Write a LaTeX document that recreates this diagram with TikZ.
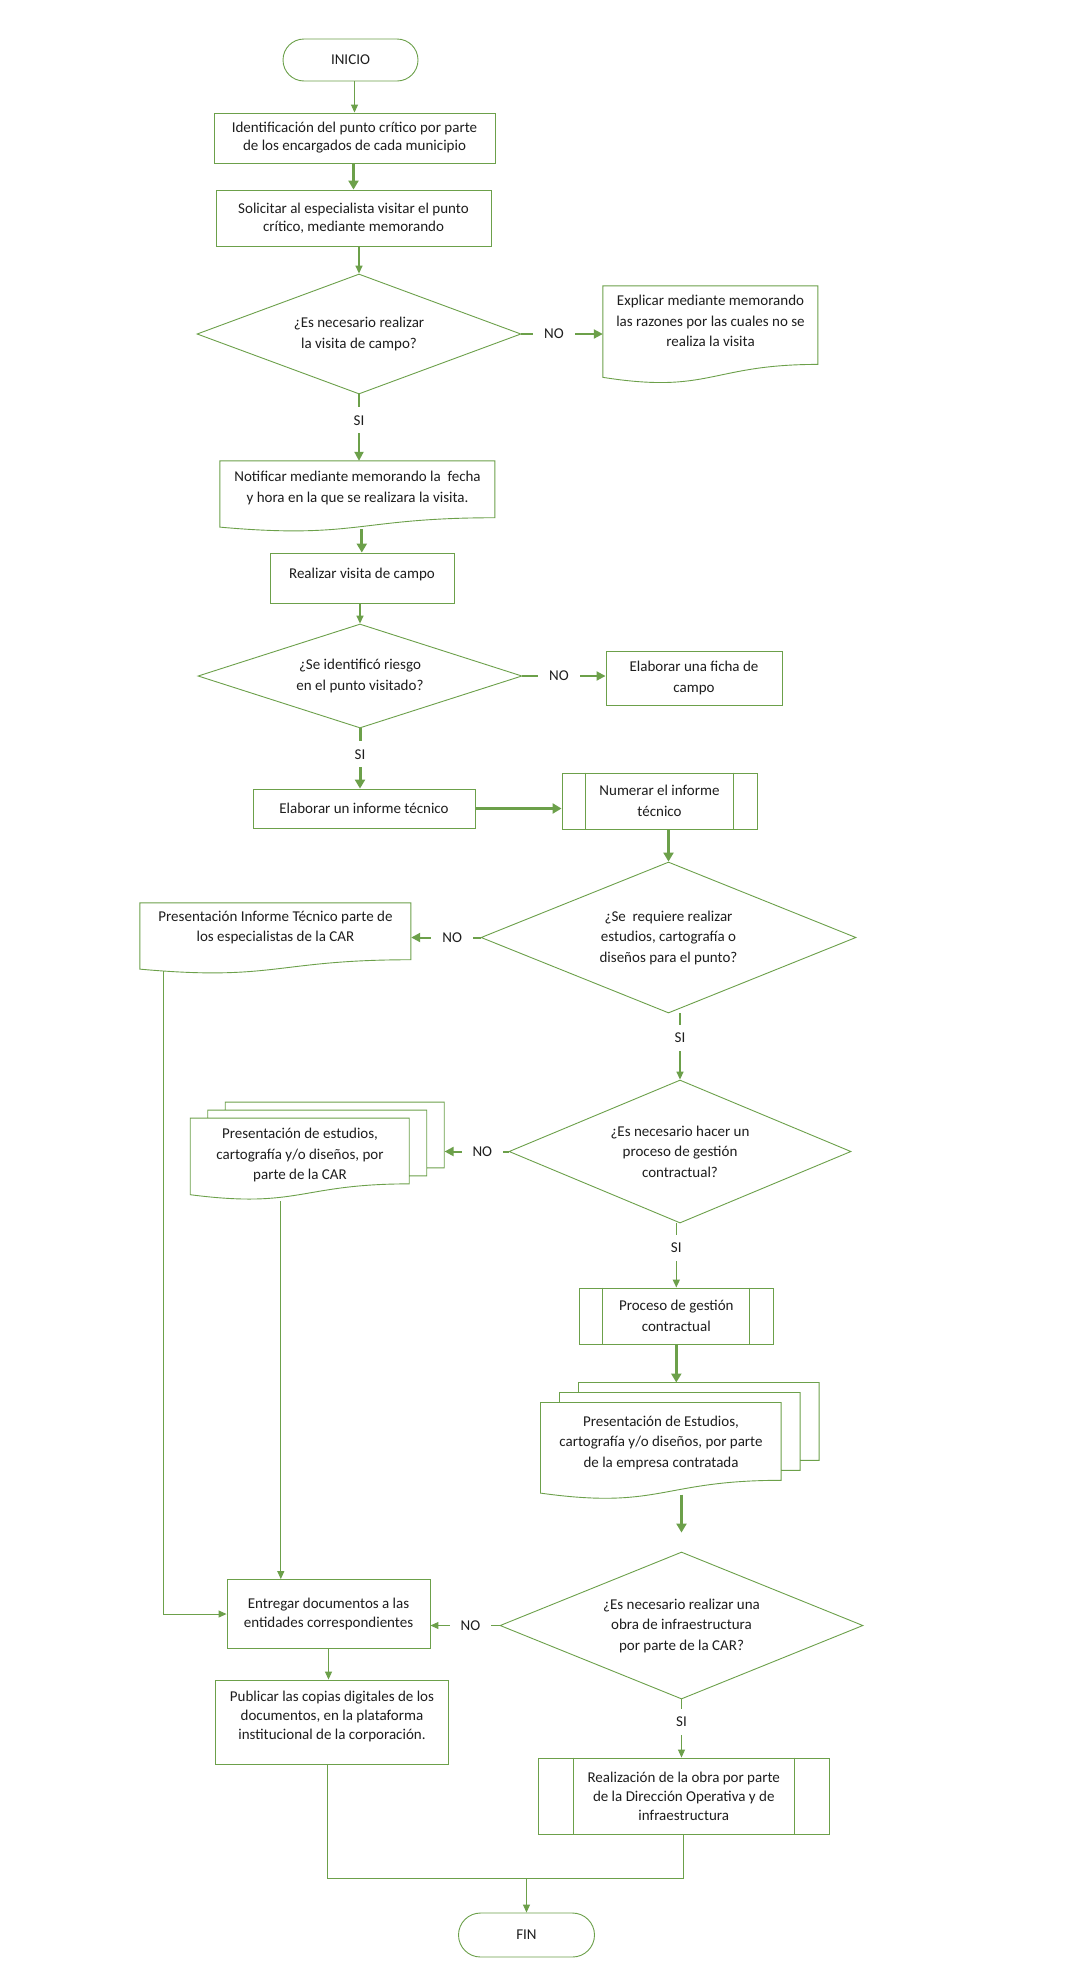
\documentclass[tikz,border=0pt]{standalone}
\usepackage{fontspec}
\setmainfont{Carlito}
\usetikzlibrary{shapes.geometric,arrows.meta,calc}
\definecolor{lc}{RGB}{108,160,74}
\definecolor{tc}{RGB}{30,30,30}
\newcommand{\docshape}[3]{\draw[shp,shift={(#1.north west)}] (0,0) -- (#2,0) -- (#2,{0.802*#3}) .. controls ({0.5*#2},{0.802*#3}) and ({0.5*#2},{1.107*#3}) .. (0,{0.934*#3}) -- cycle;}
\newcommand{\mdocshape}[5]{%
\draw[shp,shift={(#1.north west)}] (0,{2*#5}) -- ({#2-2*#4},{2*#5}) -- ({#2-2*#4},{2*#5+0.802*(#3-2*#5)}) .. controls ({0.5*(#2-2*#4)},{2*#5+0.802*(#3-2*#5)}) and ({0.5*(#2-2*#4)},{2*#5+1.107*(#3-2*#5)}) .. (0,{2*#5+0.934*(#3-2*#5)}) -- cycle
 (#4,{2*#5}) -- (#4,#5) -- ({#2-#4},#5) -- ({#2-#4},{#5+0.802*(#3-2*#5)}) -- ({#2-2*#4},{#5+0.802*(#3-2*#5)})
 ({2*#4},#5) -- ({2*#4},0) -- (#2,0) -- (#2,{0.802*(#3-2*#5)}) -- ({#2-#4},{0.802*(#3-2*#5)});}
\newcommand{\predefl}[2]{\draw[shp] ($(#1.north west)+(#2,0)$) -- ($(#1.south west)+(#2,0)$) ($(#1.north east)+(-#2,0)$) -- ($(#1.south east)+(-#2,0)$);}
\begin{document}
\begin{tikzpicture}[x=1pt,y=-1pt,
 every node/.style={font=\fontsize{15}{19}\selectfont, text=tc},
 wide/.style={font=\fontsize{15}{20.5}\selectfont},
 shp/.style={draw=lc, line width=0.9pt},
 box/.style={shp, rectangle, align=center, inner sep=0pt},
 term/.style={shp, rectangle, align=center},
 dia/.style={draw=lc, line width=0.9pt, diamond, align=center, inner sep=0pt, wide},
 ghost/.style={rectangle, inner sep=0pt, draw=none},
 txt/.style={align=center, inner sep=0pt},
 ln/.style={draw=lc, line width=1pt},
 ar/.style={ln, -{Triangle[length=8pt,width=7pt]}},
 mar/.style={draw=lc, line width=2pt, -{Triangle[length=9pt,width=9pt]}},
 tar/.style={draw=lc, line width=3pt, -{Triangle[length=9pt,width=10pt]}},
 nol/.style={fill=white, inner xsep=11pt, inner ysep=3pt},
 sil/.style={fill=white, inner xsep=3pt, inner ysep=8pt}]
\fill[white] (0,0) rectangle (1088,1968);
\useasboundingbox (0,0) rectangle (1088,1968);
% nodes
\node[term, minimum width=135pt, minimum height=42pt, rounded corners=21pt] (INI) at (350.5,60) {INICIO};
\node[box, minimum width=281pt, minimum height=50pt, font=\fontsize{15}{18}\selectfont] (B1) at (354.5,138) {Identificación del punto crítico por parte\\de los encargados de cada municipio};
\node[box, minimum width=275pt, minimum height=56pt, font=\fontsize{15}{18.5}\selectfont] (B2) at (353.5,218) {Solicitar al especialista visitar el punto\\crítico, mediante memorando};
\node[dia, minimum width=324pt, minimum height=120pt, aspect=2.7] (D1) at (359,334) {¿Es necesario realizar\\la visita de campo?};
\node[ghost, minimum width=215pt, minimum height=98pt] (EXP) at (710.5,335) {};
\docshape{EXP}{215}{98}
\node[txt, wide] (EXPt) at (710.5,321) {Explicar mediante memorando\\las razones por las cuales no se\\realiza la visita};
\node[ghost, minimum width=275pt, minimum height=71pt] (NOT) at (357.5,496.5) {};
\docshape{NOT}{275}{71}
\node[txt, wide] (NOTt) at (357.5,488) {Notificar mediante memorando la\ \ fecha\\y hora en la que se realizara la visita.};
\node[box, minimum width=184pt, minimum height=50pt] (REA) at (362,578) {};
\node[txt] (REAt) at (362,574) {Realizar visita de campo};
\node[dia, minimum width=324pt, minimum height=104pt, aspect=3.1] (D2) at (360,676) {¿Se identificó riesgo\\en el punto visitado?};
\node[box, minimum width=176pt, minimum height=54pt, wide] (FIC) at (694,678) {Elaborar una ficha de\\campo};
\node[box, minimum width=222pt, minimum height=39pt] (ELA) at (364,808.5) {Elaborar un informe técnico};
\node[box, minimum width=195pt, minimum height=56pt, wide] (NUM) at (659.5,801) {Numerar el informe\\técnico};
\predefl{NUM}{24}
\node[dia, minimum width=375pt, minimum height=151pt, aspect=2.5] (D3) at (668.5,937.5) {¿Se\ \ requiere realizar\\estudios, cartografía o\\diseños para el punto?};
\node[ghost, minimum width=271pt, minimum height=71pt] (PRI) at (275.5,938.5) {};
\docshape{PRI}{271}{71}
\node[txt, wide] (PRIt) at (275.5,927.5) {Presentación Informe Técnico parte de\\los especialistas de la CAR};
\node[dia, minimum width=342pt, minimum height=143pt, aspect=2.4] (D4) at (680,1151.5) {¿Es necesario hacer un\\proceso de gestión\\contractual?};
\node[ghost, minimum width=254pt, minimum height=98pt] (MD1) at (317.4,1151.3) {};
\mdocshape{MD1}{254}{98}{17.5}{8}
\node[txt, wide] (MD1t) at (300,1155) {Presentación de estudios,\\cartografía y/o diseños, por\\parte de la CAR};
\node[box, minimum width=194pt, minimum height=56pt, wide] (PRO) at (676.3,1316) {Proceso de gestión\\contractual};
\predefl{PRO}{24}
\node[ghost, minimum width=278.6pt, minimum height=117pt] (MD2) at (680,1441.2) {};
\mdocshape{MD2}{278.6}{117}{19}{10}
\node[txt, wide] (MD2t) at (661,1442.7) {Presentación de Estudios,\\cartografía y/o diseños, por parte\\de la empresa contratada};
\node[dia, minimum width=363pt, minimum height=147pt, aspect=2.47] (D5) at (681.5,1625.5) {¿Es necesario realizar una\\obra de infraestructura\\por parte de la CAR?};
\node[box, minimum width=203pt, minimum height=69pt] (ENT) at (328.5,1614) {Entregar documentos a las\\entidades correspondientes};
\node[box, minimum width=233pt, minimum height=84pt] (PUB) at (332,1722) {};
\node[txt] (PUBt) at (332,1716) {Publicar las copias digitales de los\\documentos, en la plataforma\\institucional de la corporación.};
\node[box, minimum width=291.5pt, minimum height=76pt] (REA2) at (683.75,1796) {Realización de la obra por parte\\de la Dirección Operativa y de\\infraestructura};
\predefl{REA2}{36}
\node[term, minimum width=136pt, minimum height=44pt, rounded corners=22pt] (FIN) at (526.5,1935) {FIN};
% connectors
\draw[ar] (B1.north |- INI.south) -- (B1.north);
\draw[tar] (B2.north |- B1.south) -- (B2.north);
\draw[ar,line width=1.5pt] (D1.north |- B2.south) -- (D1.north);
\draw[mar] (D1.east) -- node[nol,pos=0.4] (no1) {NO} (D1.east -| EXP.west);
\draw[mar] (D1.south) -- node[sil,pos=0.39] (si1) {SI} (D1.south |- NOT.north);
\coordinate (notB) at ($(NOT.north west)+(142,68)$);
\draw[tar] (notB) -- (notB |- REA.north);
\draw[ar,line width=1.5pt] (D2.north |- REA.south) -- (D2.north);
\draw[mar] (D2.east) -- node[nol,pos=0.44] (no2) {NO} (D2.east -| FIC.west);
\draw[tar] (D2.south) -- node[sil,pos=0.43] (si2) {SI} (D2.south |- ELA.north);
\draw[tar] (ELA.east) -- (ELA.east -| NUM.west);
\draw[tar] (D3.north |- NUM.south) -- (D3.north);
\draw[mar] (D3.west) -- node[nol,pos=0.41] (no3) {NO} (D3.west -| PRI.east);
\draw[ar,line width=1.5pt] (D4.north |- D3.south) -- node[sil,pos=0.37] (si3) {SI} (D4.north);
\draw[mar] (D4.west) -- node[nol,pos=0.41] (no4) {NO} (D4.west -| MD1.east);
\draw[ar,line width=1.5pt] (PRO.north |- D4.south) -- node[sil,pos=0.38] (si4) {SI} (PRO.north);
\draw[tar] (PRO.south) -- (PRO.south |- MD2.north);
\coordinate (md2B) at ($(MD2.north west)+(141,112)$);
\draw[tar, shorten >=19pt] (md2B) -- (md2B |- D5.north);
\draw[ar] (D5.west) -- node[nol,pos=0.42] (no5) {NO} (D5.west -| ENT.east);
\draw[ar] (D5.south) -- node[sil,pos=0.39] (si5) {SI} (D5.south |- REA2.north);
\coordinate (priB) at ($(PRI.north west)+(24,68)$);
\draw[ar] (priB) |- (ENT.west);
\coordinate (md1B) at ($(MD1.north west)+(90.6,99)$);
\draw[ar] (md1B) -- (md1B |- ENT.north);
\draw[ar] (ENT.south) -- (ENT.south |- PUB.north);
\coordinate (J) at (526.5,1878);
\draw[ln] ($(PUB.south)+(-5,0)$) |- (J) -| (REA2.south);
\draw[ar] (J) -- (FIN.north);
\end{tikzpicture}
\end{document}
